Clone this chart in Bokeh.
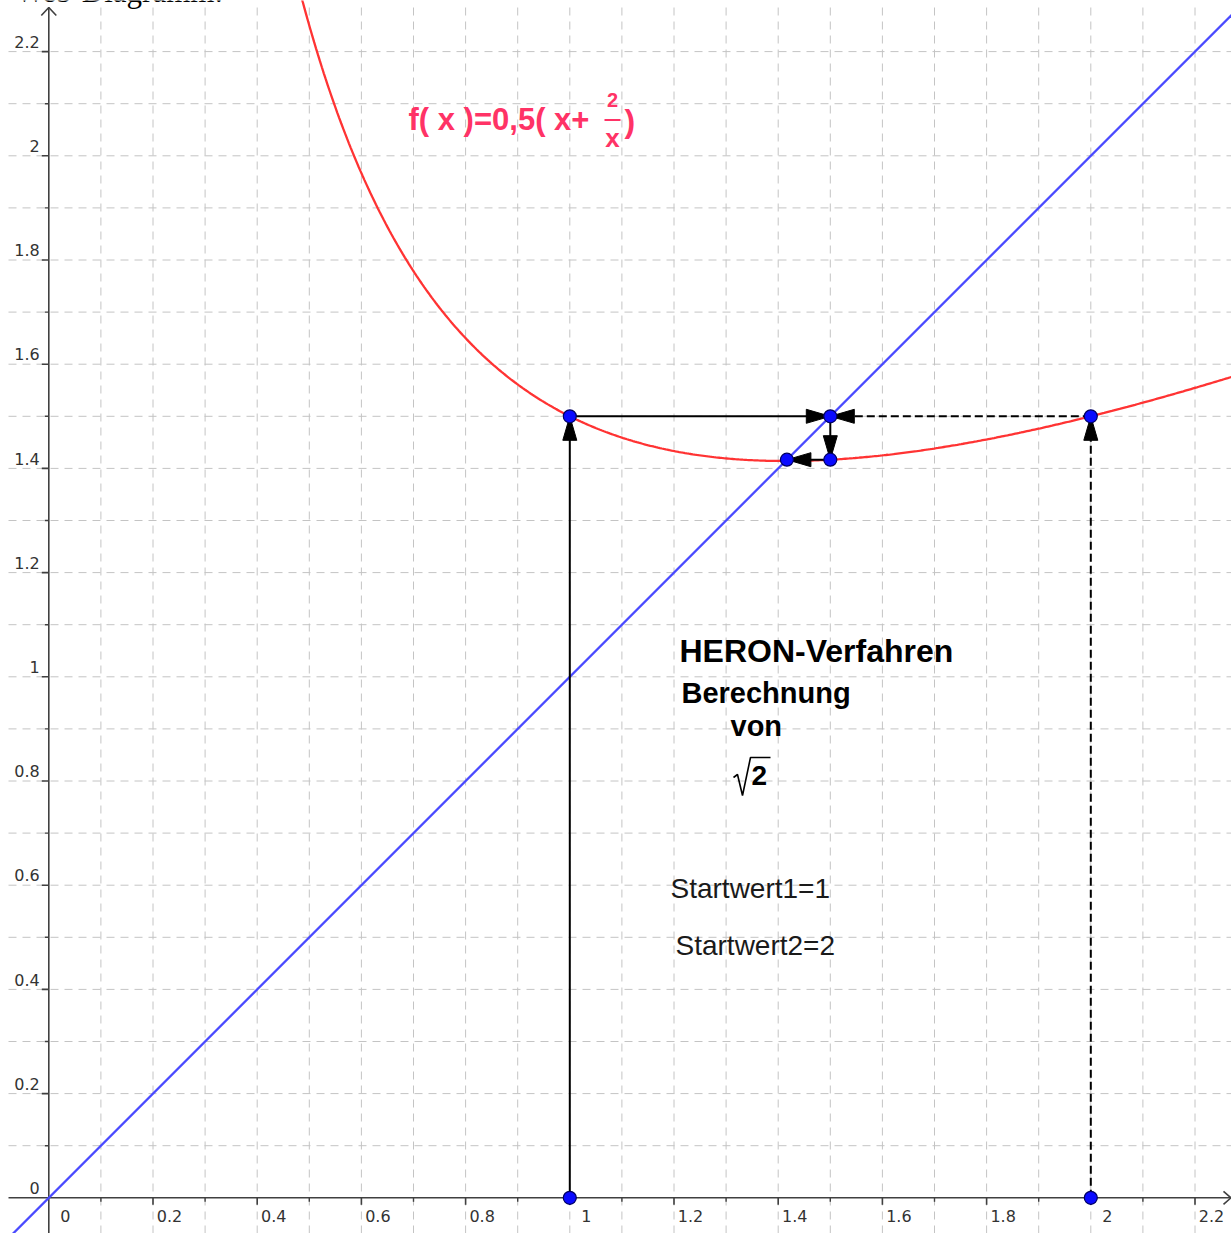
import numpy as np
from bokeh.plotting import figure
from bokeh.models import Range1d
from bokeh.core.properties import value
from bokeh.embed import file_html
from bokeh.resources import INLINE

# ---- data -------------------------------------------------------------
x_tick_values = [0, 0.2, 0.4, 0.6, 0.8, 1, 1.2, 1.4, 1.6, 1.8, 2, 2.2]
x_tick_labels = ["0", "0.2", "0.4", "0.6", "0.8", "1", "1.2", "1.4", "1.6", "1.8", "2", "2.2"]
y_tick_values = [0, 0.2, 0.4, 0.6, 0.8, 1, 1.2, 1.4, 1.6, 1.8, 2, 2.2]
y_tick_labels = ["0", "0.2", "0.4", "0.6", "0.8", "1", "1.2", "1.4", "1.6", "1.8", "2", "2.2"]

# Heron iteration for sqrt(2): start values and the iterates f(1)=f(2)=1.5, f(1.5)=1.4167
web_point_x = [1, 1, 1.5, 1.5, 1.4167, 2, 2]
web_point_y = [0, 1.5, 1.5, 1.4167, 1.4167, 0, 1.5]

solid_x0 = [1, 1, 1.5, 1.5]
solid_y0 = [0, 1.5, 1.5, 1.4167]
solid_x1 = [1, 1.5, 1.5, 1.4167]
solid_y1 = [1.5, 1.5, 1.4167, 1.4167]

dashed_x0 = [2, 2]
dashed_y0 = [0, 1.5]
dashed_x1 = [2, 1.5]
dashed_y1 = [1.5, 1.5]

diag_x = [-0.1, 2.3]
diag_y = [-0.1, 2.3]


def heron(x):
    # f(x) = 0,5 (x + 2/x)
    return 0.5 * (x + 2.0 / x)


curve_x = np.linspace(0.45, 2.3, 500)
curve_y = heron(curve_x)

# ---- view -------------------------------------------------------------
W, H = 1231, 1233
PX = 521.0                      # pixels per unit on both axes
OX, OY = 48.3, 1197.3           # pixel position of the origin
x0, x1 = -OX / PX, (W - OX) / PX
y0, y1 = -(H - OY) / PX, OY / PX


def dx(px):
    return px / PX


def X(px):
    return (px - OX) / PX


def Y(py):
    return (OY - py) / PX


p = figure(width=W, height=H, x_range=Range1d(x0, x1), y_range=Range1d(y0, y1),
           output_backend="svg", toolbar_location=None, min_border=0,
           x_axis_type=None, y_axis_type=None)
p.outline_line_color = None
p.background_fill_color = "white"
p.border_fill_color = "white"

# grid (0.1 spacing, dashed)
grid_left = x0 + dx(8)
grid_top = y1 - dx(7)
g = [k / 10 for k in range(1, 23)]
p.segment(x0=g, y0=[y0] * len(g), x1=g, y1=[grid_top] * len(g),
          line_color="#c4c4c4", line_width=1, line_dash="8 6")
p.segment(x0=[grid_left] * len(g), y0=g, x1=[x1] * len(g), y1=g,
          line_color="#c4c4c4", line_width=1, line_dash="8 6")

# axes
axis_color = "#404040"
p.segment(x0=[grid_left], y0=[0], x1=[x1], y1=[0], line_color=axis_color, line_width=1.6)
p.segment(x0=[0], y0=[y0], x1=[0], y1=[grid_top], line_color=axis_color, line_width=1.6)
p.multi_line(xs=[[x1 - dx(8), x1 - dx(0.5), x1 - dx(8)],
                 [-dx(7.5), 0, dx(7.5)]],
             ys=[[dx(6.5), 0, -dx(6.5)],
                 [grid_top - dx(8), grid_top, grid_top - dx(8)]],
             line_color=axis_color, line_width=1.6)

major = [v for v in x_tick_values if v != 0]
minor = [k / 10 for k in range(1, 23, 2)]
p.segment(x0=major, y0=[0] * len(major), x1=major, y1=[-dx(7)] * len(major),
          line_color=axis_color, line_width=1.6)
p.segment(x0=minor, y0=[0] * len(minor), x1=minor, y1=[-dx(4)] * len(minor),
          line_color=axis_color, line_width=1.4)
majy = [v for v in y_tick_values if v != 0]
p.segment(x0=[0] * len(majy), y0=majy, x1=[-dx(7)] * len(majy), y1=majy,
          line_color=axis_color, line_width=1.6)
p.segment(x0=[0] * len(minor), y0=minor, x1=[-dx(4)] * len(minor), y1=minor,
          line_color=axis_color, line_width=1.4)


def label(xs, ys, texts, size, font="Liberation Sans", style="normal",
          color="black", align="left", xo=0, yo=0):
    # baseline-anchored text; the shift compensates the renderer's baseline placement
    p.text(x=xs, y=ys, text=texts, x_offset=xo, y_offset=yo - 0.42 * size,
           text_align=align, text_baseline="alphabetic", text_font=value(font),
           text_font_style=style, text_font_size=f"{size}px", text_color=color)


label(x_tick_values, [0] * len(x_tick_values), x_tick_labels, 16,
      font="DejaVu Sans", color="#333333", align="center", xo=16.5, yo=25)
label([0] * len(y_tick_values), y_tick_values, y_tick_labels, 16,
      font="DejaVu Sans", color="#333333", align="right", xo=-9, yo=-3)

# y = x and the function
p.line(diag_x, diag_y, line_color="#4a4aff", line_width=2.3)
p.line(curve_x, curve_y, line_color="#ff3333", line_width=2.3)


# arrows of the web diagram
def heads(xa, ya, xb, yb, length=24, half=7):
    xs, ys = [], []
    for a, b, c, d in zip(xa, ya, xb, yb):
        ux, uy = c - a, d - b
        n = (ux ** 2 + uy ** 2) ** 0.5
        ux, uy = ux / n, uy / n
        bx, by = c - dx(length) * ux, d - dx(length) * uy
        xs.append([c, bx - dx(half) * uy, bx + dx(half) * uy])
        ys.append([d, by + dx(half) * ux, by - dx(half) * ux])
    return xs, ys


p.segment(x0=solid_x0, y0=solid_y0, x1=solid_x1, y1=solid_y1,
          line_color="black", line_width=2)
p.segment(x0=dashed_x0, y0=dashed_y0, x1=dashed_x1, y1=dashed_y1,
          line_color="black", line_width=2, line_dash="8 4")
hx, hy = heads(solid_x0 + dashed_x0, solid_y0 + dashed_y0,
               solid_x1 + dashed_x1, solid_y1 + dashed_y1)
p.patches(xs=hx, ys=hy, fill_color="black", line_color="black", line_width=1)

p.scatter(web_point_x, web_point_y, size=13, fill_color="#0a0aff",
          line_color="#000060", line_width=1.2)

# ---- texts ------------------------------------------------------------
pink = "#ff3366"

label([X(408)], [Y(132)], ["f( x )=0,5( x+"], 31, style="bold", color=pink)
label([X(612)], [Y(108)], ["2"], 20, style="bold", color=pink, align="center")
p.segment(x0=[X(604)], y0=[Y(119.5)], x1=[X(620)], y1=[Y(119.5)],
          line_color=pink, line_width=2)
label([X(612)], [Y(148)], ["x"], 26, style="bold", color=pink, align="center")
label([X(624)], [Y(134)], [")"], 32, style="bold", color=pink)

label([X(679)], [Y(664)], ["HERON-Verfahren"], 32, style="bold")
label([X(681)], [Y(705)], ["Berechnung"], 29, style="bold")
label([X(730)], [Y(738)], ["von"], 29, style="bold")
p.line(x=[X(733), X(737), X(742), X(750), X(770)],
       y=[Y(777), Y(774), Y(795), Y(757), Y(757)],
       line_color="black", line_width=1.6)
label([X(751)], [Y(787)], ["2"], 28, style="bold")

label([X(670), X(675)], [Y(900), Y(957)], ["Startwert1=1", "Startwert2=2"], 28,
      color="#1a1a1a")

# page heading running off the top edge
label([X(15)], [Y(4)], ["Web-Diagramm:"], 31, font="Liberation Serif")

open("out.html", "w").write(file_html(p, INLINE))
